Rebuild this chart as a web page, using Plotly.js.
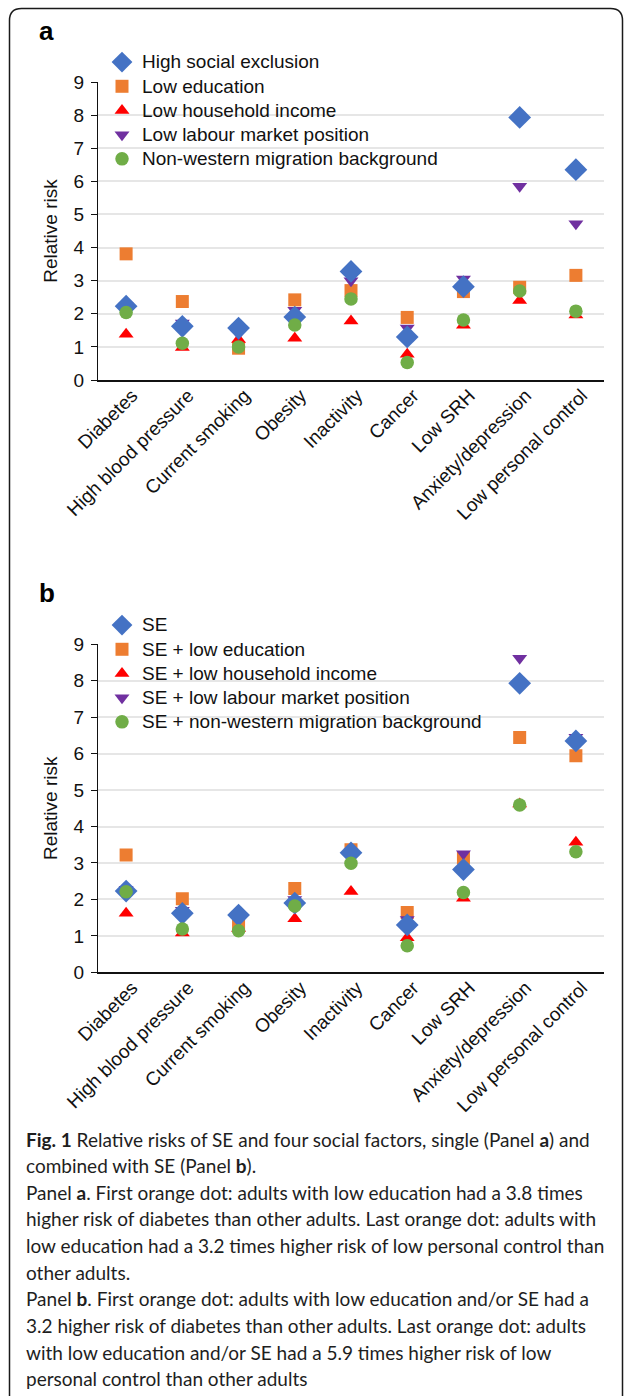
<!DOCTYPE html>
<html><head><meta charset="utf-8">
<script src="https://cdn.plot.ly/plotly-3.0.1.min.js"></script>
<style>html,body{margin:0;padding:0;background:#fff}#chart{width:625px;height:1396px}</style>
</head><body><div id="chart"></div>
<script>
// ---------- DATA ----------
const categories = ['Diabetes', 'High blood pressure', 'Current smoking', 'Obesity', 'Inactivity',
                    'Cancer', 'Low SRH', 'Anxiety/depression', 'Low personal control'];
const yTicks = [0, 1, 2, 3, 4, 5, 6, 7, 8, 9];

const namesA = ['High social exclusion', 'Low education', 'Low household income',
                'Low labour market position', 'Non-western migration background'];
const namesB = ['SE', 'SE + low education', 'SE + low household income',
                'SE + low labour market position', 'SE + non-western migration background'];

// Panel a: single factors
const aSE        = [2.23, 1.62, 1.57, 1.90, 3.28, 1.30, 2.82, 7.93, 6.35];
const aEducation = [3.81, 2.37, 0.96, 2.42, 2.70, 1.89, 2.67, 2.80, 3.16];
const aIncome    = [1.38, 0.98, 1.22, 1.26, 1.78, 0.78, 1.65, 2.40, 1.96];
const aLabour    = [2.25, 1.72, 1.40, 2.11, 3.00, 1.57, 3.05, 5.85, 4.72];
const aMigration = [2.04, 1.11, 1.00, 1.66, 2.45, 0.53, 1.81, 2.69, 2.08];

// Panel b: combined with SE
const bSE        = [2.23, 1.62, 1.57, 1.90, 3.28, 1.30, 2.82, 7.93, 6.35];
const bEducation = [3.22, 2.02, 1.28, 2.30, 3.36, 1.64, 3.13, 6.44, 5.94];
const bIncome    = [1.62, 1.08, 1.20, 1.47, 2.22, 0.95, 2.03, 4.62, 3.57];
const bLabour    = [2.28, 1.70, 1.45, 2.00, 3.30, 1.45, 3.25, 8.62, 6.45];
const bMigration = [2.21, 1.19, 1.14, 1.82, 2.99, 0.73, 2.19, 4.59, 3.31];

const captionLines = [
  '<b>Fig. 1</b> Relative risks of SE and four social factors, single (Panel <b>a</b>) and',
  'combined with SE (Panel <b>b</b>).',
  'Panel <b>a</b>. First orange dot: adults with low education had a 3.8 times',
  'higher risk of diabetes than other adults. Last orange dot: adults with',
  'low education had a 3.2 times higher risk of low personal control than',
  'other adults.',
  'Panel <b>b</b>. First orange dot: adults with low education and/or SE had a',
  '3.2 higher risk of diabetes than other adults. Last orange dot: adults',
  'with low education and/or SE had a 5.9 times higher risk of low',
  'personal control than other adults'
];

// ---------- STYLE ----------
const W = 625, H = 1396;
const px = v => v / W;
const py = v => 1 - v / H;
const ARIAL = '"Liberation Sans", Arial, Helvetica, sans-serif';
const CAPFONT = 'Lato, "Open Sans", sans-serif';

// series style, index 0=SE,1=education,2=income,3=labour,4=migration
const symbols = ['diamond', 'square', 'triangle-up', 'triangle-down', 'circle'];
const colors  = ['#4472C4', '#ED7D31', '#FF0000', '#7030A0', '#70AD47'];
const sizes   = [17.5, 13, 13, 13, 13.5];
const drawOrder = [1, 2, 3, 0, 4];

function legendName(n) { return '<span style="font-size:19px">' + n + '</span>'; }

function buildTraces(names, values, xa, ya, legendId) {
  return drawOrder.map(i => ({
    type: 'scatter', mode: 'markers',
    x: categories, y: values[i],
    xaxis: xa, yaxis: ya,
    name: legendName(names[i]),
    legend: legendId,
    legendrank: i + 1,
    marker: { symbol: symbols[i], color: colors[i], size: sizes[i], line: { width: 0 } },
    hoverinfo: 'x+y+name'
  }));
}

const traces = [].concat(
  buildTraces(namesA, [aSE, aEducation, aIncome, aLabour, aMigration], 'x', 'y', 'legend'),
  buildTraces(namesB, [bSE, bEducation, bIncome, bLabour, bMigration], 'x2', 'y2', 'legend2')
);

function xAxis(anchor) {
  return {
    domain: [px(98), px(604)], anchor: anchor,
    type: 'category', categoryorder: 'array', categoryarray: categories,
    range: [-0.5, 8.5], tickangle: -45, ticks: '',
    ticklabelshift: 6, ticklabelstandoff: -5,
    showline: true, linecolor: '#111', linewidth: 2,
    showgrid: false, zeroline: false, fixedrange: true,
    tickfont: { family: ARIAL, size: 19, color: '#111' }
  };
}
function yAxis(anchor, top, bottom) {
  return {
    domain: [py(bottom), py(top)], anchor: anchor,
    range: [0, 9], tickmode: 'array', tickvals: yTicks, ticktext: yTicks.map(String),
    showline: true, linecolor: '#111', linewidth: 1.3,
    ticks: 'outside', ticklen: 6, tickwidth: 1.3, tickcolor: '#111',
    ticklabelstandoff: 3,
    showgrid: true, gridcolor: '#e6e6e6', gridwidth: 1.5,
    zeroline: false, fixedrange: true,
    tickfont: { family: ARIAL, size: 19, color: '#111' },
    title: { text: 'Relative risk', font: { family: ARIAL, size: 19, color: '#111' }, standoff: 10 }
  };
}
function legendBox(topPx) {
  return {
    x: px(102), y: py(topPx), xanchor: 'left', yanchor: 'top',
    bgcolor: 'rgba(0,0,0,0)', borderwidth: 0,
    font: { family: ARIAL, size: 16.3, color: '#111' },
    itemsizing: 'trace', traceorder: 'normal', tracegroupgap: 0
  };
}

const r = 12;
const L = 9.5, R = 622.5, T = 8.5;
const framePath = `M ${px(L)},-0.02 L ${px(L)},${py(T + r)} Q ${px(L)},${py(T)} ${px(L + r)},${py(T)} ` +
                  `L ${px(R - r)},${py(T)} Q ${px(R)},${py(T)} ${px(R)},${py(T + r)} L ${px(R)},-0.02`;

const annotations = [
  { text: '<b>a</b>', x: px(37), y: py(31), xanchor: 'left', yanchor: 'middle',
    font: { family: ARIAL, size: 26, color: '#000' } },
  { text: '<b>b</b>', x: px(37), y: py(593), xanchor: 'left', yanchor: 'middle',
    font: { family: ARIAL, size: 26, color: '#000' } }
].concat(captionLines.map((t, k) => ({
  text: t, x: px(24), y: py(1139 + k * 26.65), xanchor: 'left', yanchor: 'middle', align: 'left',
  font: { family: CAPFONT, size: 19, color: '#1e1e1e' }
})));
annotations.forEach(a => { a.xref = 'paper'; a.yref = 'paper'; a.showarrow = false; });

const layout = {
  width: W, height: H,
  margin: { l: 0, r: 0, t: 0, b: 0 },
  paper_bgcolor: '#ffffff', plot_bgcolor: 'rgba(0,0,0,0)',
  font: { family: ARIAL, size: 19, color: '#111' },
  showlegend: true,
  xaxis: xAxis('y'),
  yaxis: yAxis('x', 82, 380),
  xaxis2: xAxis('y2'),
  yaxis2: yAxis('x2', 644.3, 972.3),
  legend: legendBox(45),
  legend2: legendBox(608),
  annotations: annotations,
  shapes: [{ type: 'path', xref: 'paper', yref: 'paper', path: framePath,
             line: { color: '#1a1a1a', width: 1.5 }, fillcolor: 'rgba(0,0,0,0)' }]
};

Plotly.newPlot('chart', traces, layout, { displayModeBar: false, responsive: false });
</script>
</body></html>
